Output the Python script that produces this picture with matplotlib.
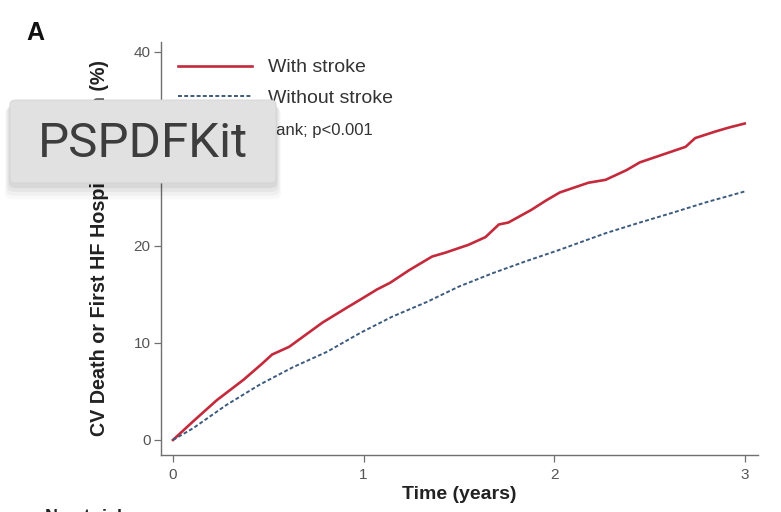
import matplotlib.pyplot as plt
from matplotlib.patches import FancyBboxPatch

# cumulative incidence (%) read at selected times (years)
t_stroke = [0, 0.105, 0.23, 0.37, 0.47, 0.52, 0.61, 0.68, 0.785, 0.91, 0.995,
            1.07, 1.14, 1.24, 1.36, 1.43, 1.55, 1.64, 1.71, 1.76, 1.88, 1.96,
            2.03, 2.18, 2.27, 2.38, 2.45, 2.57, 2.69, 2.74, 2.85, 2.92, 3.0]
v_stroke = [0, 1.9, 4.1, 6.2, 7.9, 8.8, 9.6, 10.6, 12.1, 13.6, 14.6,
            15.5, 16.2, 17.5, 18.9, 19.3, 20.1, 20.9, 22.2, 22.4, 23.7, 24.7,
            25.5, 26.5, 26.8, 27.8, 28.6, 29.4, 30.2, 31.1, 31.8, 32.2, 32.6]

t_nostroke = [0, 0.105, 0.28, 0.455, 0.63, 0.81, 0.98, 1.15, 1.33, 1.50,
              1.68, 1.85, 2.03, 2.27, 2.45, 2.62, 2.80, 3.0]
v_nostroke = [0, 1.2, 3.6, 5.7, 7.5, 9.1, 11.0, 12.7, 14.2, 15.8,
              17.2, 18.4, 19.6, 21.3, 22.4, 23.4, 24.5, 25.6]

y_ticks = [0, 10, 20, 30, 40]
x_ticks = [0, 1, 2, 3]

plt.rcParams['font.family'] = ['Liberation Sans', 'DejaVu Sans']

fig = plt.figure(figsize=(7.81, 5.12), dpi=100)
ax = fig.add_axes([0.2061, 0.1113, 0.7645, 0.8067])

ax.plot(t_stroke, v_stroke, color='#c42a3c', lw=1.9, label='With stroke')
ax.plot(t_nostroke, v_nostroke, color='#3d5b7e', lw=1.4, ls=(0, (2.0, 1.2)),
        label='Without stroke')

ax.set_xlim(-0.063, 3.07)
ax.set_ylim(-1.55, 41.0)
ax.set_xticks(x_ticks)
ax.set_yticks(y_ticks)
for s in ['top', 'right']:
    ax.spines[s].set_visible(False)
for s in ['left', 'bottom']:
    ax.spines[s].set_color('#707070')
    ax.spines[s].set_linewidth(1.0)
ax.tick_params(axis='both', colors='#707070', labelcolor='#555555',
               labelsize=11, length=5, width=0.9, direction='out')
ax.tick_params(axis='y', pad=2.5)
ax.tick_params(axis='x', pad=4)

ax.set_ylabel('CV Death or First HF Hospitalization (%)', fontsize=14.2,
              fontweight='bold', color='#222222')
ax.yaxis.set_label_coords(-0.087, 0.5)
ax.set_xlabel('Time (years)', fontsize=14, fontweight='bold', color='#222222')
ax.xaxis.set_label_coords(0.5, -0.075)

leg = ax.legend(loc='upper left', bbox_to_anchor=(0.015, 0.978), frameon=False,
                fontsize=14, handlelength=3.8, handletextpad=0.82,
                labelspacing=0.66, borderaxespad=0.0)
for txt in leg.get_texts():
    txt.set_color('#333333')

fig.text(373 / 781, 1 - 131 / 512, 'Log-rank; p<0.001', fontsize=12,
         color='#333333', ha='right', va='center')

fig.text(35 / 781, 1 - 33 / 512, 'A', fontsize=18, fontweight='bold',
         ha='center', va='center', color='#111111')

# risk table heading, runs off the bottom edge
fig.text(45 / 781, 1 - 508.5 / 512, 'No at risk', fontsize=13, fontweight='bold',
         ha='left', va='top', color='#222222')

# overlay badge with soft shadow
bx, by, bw, bh = 10 / 781, 1 - 183 / 512, 266 / 781, 83 / 512
for i, a in enumerate([0.025, 0.035, 0.045, 0.055]):
    pad = (4 - i) * 0.004
    fig.patches.append(FancyBboxPatch(
        (bx - pad * 0.4, by - pad * 1.8 - 0.003), bw + pad * 0.8, bh + pad,
        boxstyle='round,pad=0,rounding_size=0.01', transform=fig.transFigure,
        facecolor='#000000', edgecolor='none', alpha=a, zorder=9))
fig.patches.append(FancyBboxPatch(
    (bx, by), bw, bh, boxstyle='round,pad=0,rounding_size=0.008',
    transform=fig.transFigure, facecolor='#e1e1e1', edgecolor='#d4d4d4',
    lw=0.6, zorder=10))
fig.text(bx + bw / 2, by + bh / 2 - 0.004, 'PSPDFKit', fontsize=35.5,
         family=['Roboto', 'DejaVu Sans'], color='#3d3d3d', ha='center',
         va='center', zorder=11)

plt.savefig('out.png', dpi=100)
